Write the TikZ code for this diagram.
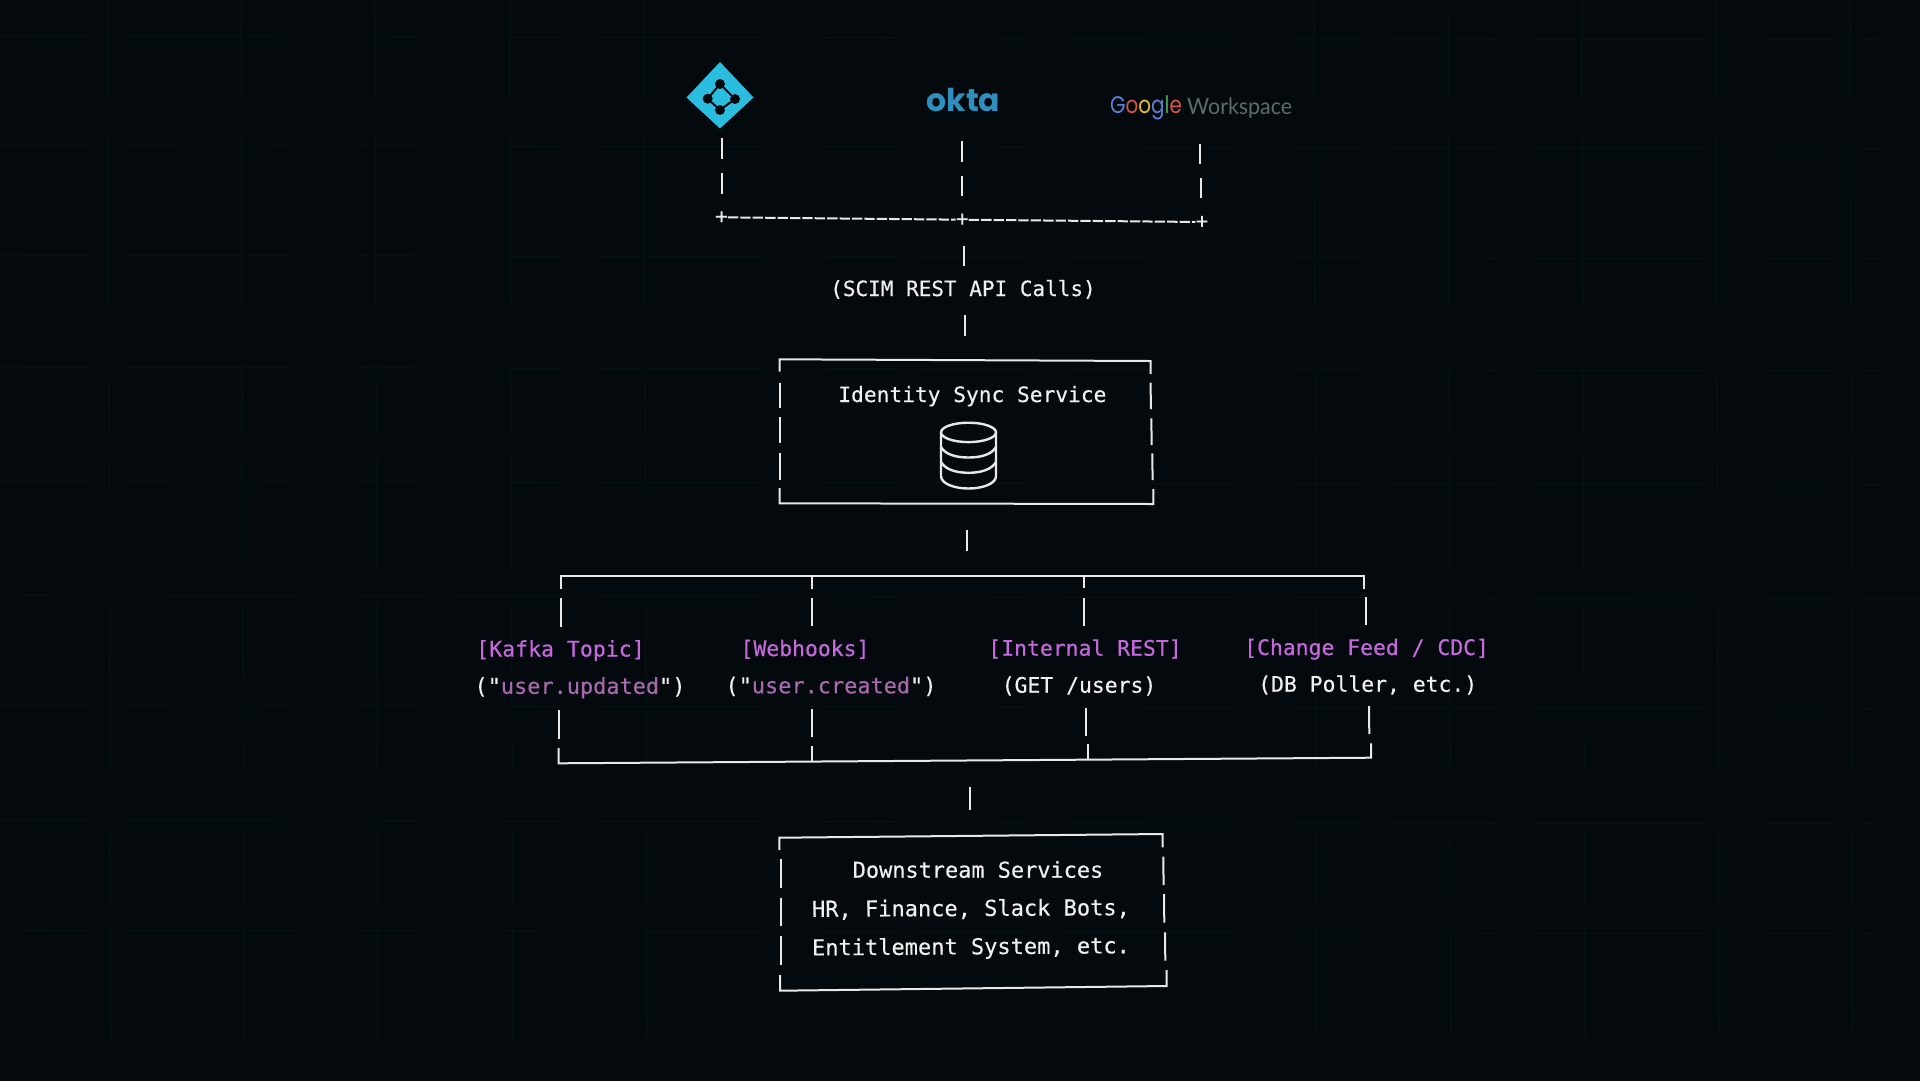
\documentclass[tikz,border=0pt]{standalone}
\usepackage{fontspec}
\newfontfamily\monof[FakeBold=0.35]{DejaVu Sans Mono}
\newfontfamily\logofont{Poppins}
\newfontfamily\wsfont{Lato}
\definecolor{bgc}{HTML}{03090C}
\definecolor{gridc}{HTML}{061114}
\definecolor{wirec}{HTML}{E8E8E8}
\definecolor{txtc}{HTML}{F0F0F0}
\definecolor{magc}{HTML}{C468DC}
\definecolor{mauvec}{HTML}{A868AC}
\definecolor{azc}{HTML}{2BBDE0}
\definecolor{oktac}{HTML}{2F8FBE}
\definecolor{gblue}{HTML}{5A80D8}
\definecolor{gred}{HTML}{D9534A}
\definecolor{gyel}{HTML}{E2BE3A}
\definecolor{ggreen}{HTML}{4FA45A}
\definecolor{wsc}{HTML}{5E6B6B}
\tikzset{
  wire/.style={draw=wirec,line width=2pt},
  hdash/.style={draw=wirec,line width=2pt,dash pattern=on 10.4pt off 2pt},
  mono/.style={inner sep=0pt,anchor=base,text=txtc,font=\monof\fontsize{21.4}{21.4}\selectfont},
  monob/.style={mono,font=\monof\fontsize{21.9}{21.9}\selectfont},
  plusn/.style={inner sep=0pt,text=wirec,font=\monof\fontsize{21}{21}\selectfont},
  gridl/.style={draw=gridc,line width=1.3pt,dash pattern=on 110pt off 35pt on 170pt off 60pt on 70pt off 25pt}
}
\newcommand\wseg[5]{\coordinate (#1a) at (#2,#3); \coordinate (#1b) at (#4,#5); \draw[wire] (#1a) -- (#1b);}
\begin{document}
\begin{tikzpicture}[x=1pt,y=-1pt]
\useasboundingbox (0,0) rectangle (1920,1080);
\clip (0,0) rectangle (1920,1080);
\fill[bgc] (-5,-5) rectangle (1925,1085);
% faint background grid
\foreach \gx in {108,241,375,510,644,1314,1448,1582,1716,1850}
  {\coordinate (gt\gx) at (\gx,-12); \coordinate (gb\gx) at (\gx+3,1075); \draw[gridl] (gt\gx) -- (gb\gx);}
\foreach \gy in {36,145,255,367,481,595,705,820,930}
  {\coordinate (gl\gy) at (-20,\gy); \coordinate (gr\gy) at (1930,\gy+4); \draw[gridl] (gl\gy) -- (gr\gy);}

% Azure AD logo
\coordinate (azT) at (720,62); \coordinate (azR) at (753.5,97.5);
\coordinate (azB) at (720,128.5); \coordinate (azL) at (686.5,97.5);
\fill[azc] (azT) -- (azR) -- (azB) -- (azL) -- cycle;
\coordinate (az1) at (720,84); \coordinate (az2) at (735,99); \coordinate (az3) at (720,110); \coordinate (az4) at (707.7,98.7);
\draw[bgc,line width=2pt] (az1) -- (az2) -- (az3) -- (az4) -- cycle;
\foreach \a in {1,2,3,4} \fill[bgc] (az\a) circle (5pt);

% okta and Google Workspace logos
\node[inner sep=0pt,anchor=base,text=oktac,font=\logofont\bfseries\fontsize{31.5}{31.5}\selectfont] (okta) at (963.5,111) {okta};
\node[inner sep=0pt,anchor=base west,font=\logofont\fontsize{24}{24}\selectfont] (google) at (1110,113)
  {\scalebox{0.83}[1]{\textcolor{gblue}{G}\textcolor{gred}{o}\textcolor{gyel}{o}\textcolor{gblue}{g}\textcolor{ggreen}{l}\textcolor{gred}{e}}};
\node[inner sep=0pt,anchor=base west,text=wsc,font=\wsfont\fontsize{22.5}{22.5}\selectfont] (wspace) at (1187,114) {\scalebox{0.95}[1]{Workspace}};

% top connectors
\wseg{a1}{722.3}{138.3}{722.3}{159}
\wseg{a2}{722.3}{172.7}{722.3}{194}
\wseg{b1}{962}{141}{962}{161.7}
\wseg{b2}{962.3}{175.7}{962.3}{196}
\wseg{c1}{1199.6}{144}{1199.6}{164.3}
\wseg{c2}{1200.6}{178.3}{1200.6}{198.3}
\node[plusn] (plusL) at (721.4,217.3) {+};
\node[plusn] (plusM) at (962.2,219.7) {+};
\node[plusn] (plusR) at (1202,222) {+};
\draw[hdash] (plusL) -- (plusM);
\draw[hdash] (plusM) -- (plusR);
\wseg{d1}{964}{245.7}{964}{265.7}
\node[mono,font=\monof\fontsize{21}{21}\selectfont] (scim) at (963,296) {(SCIM REST API Calls)};
\wseg{d2}{964.7}{315}{964.7}{335.7}

% Identity Sync Service box
\coordinate (iTL) at (779.5,359.3); \coordinate (iTR) at (1150.6,361);
\coordinate (iBR) at (1153.3,504); \coordinate (iBL) at (779.5,503.3);
\coordinate (iL1) at (779.5,371.7); \coordinate (iR1) at (1150.6,374);
\coordinate (iL2) at (779.5,488); \coordinate (iR2) at (1153.3,489);
\draw[wire] (iL1) -- (iTL) -- (iTR) -- (iR1);
\draw[wire] (iL2) -- (iBL) -- (iBR) -- (iR2);
\wseg{e1}{779.5}{382.7}{779.5}{407.7}
\wseg{e2}{779.5}{416.7}{779.5}{443.3}
\wseg{e3}{779.5}{452.7}{779.5}{480}
\wseg{f1}{1150.6}{382.7}{1150.9}{409}
\wseg{f2}{1151.3}{418.3}{1151.7}{445}
\wseg{f3}{1152.3}{453.3}{1152.6}{480}
\node[mono,font=\monof\fontsize{21.2}{21.2}\selectfont] (iname) at (972.4,402) {Identity Sync Service};

% database icon
\coordinate (dbC) at (968.5,432.4);
\draw[wire,line width=2.4pt] (dbC) ellipse [x radius=27.5pt,y radius=9.7pt];
\coordinate (dbL0) at (941,432.4); \coordinate (dbR0) at (996,432.4);
\coordinate (dbL3) at (941,476); \coordinate (dbR3) at (996,476);
\draw[wire,line width=2.4pt] (dbL0) -- (dbL3) .. controls (941,484) and (955,488.5) .. (968.5,488.5) .. controls (982,488.5) and (996,484) .. (dbR3) -- (dbR0);
\draw[wire,line width=2.4pt] (941,447) .. controls (945,454) and (955,457.5) .. (968.5,457.5) .. controls (982,457.5) and (992,454) .. (996,447);
\draw[wire,line width=2.4pt] (941,462) .. controls (945,469) and (955,472.8) .. (968.5,472.8) .. controls (982,472.8) and (992,469) .. (996,462);

\wseg{g1}{967}{530}{967}{550.7}

% upper bracket
\coordinate (uL) at (560.5,576); \coordinate (uR) at (1364.3,576);
\coordinate (uL1) at (560.5,589); \coordinate (uR1) at (1364.3,588.5);
\draw[wire] (uL1) -- (uL) -- (uR) -- (uR1);
\wseg{h1}{811.7}{576}{811.7}{589}
\wseg{h2}{1083.6}{576}{1083.6}{588.3}
\wseg{i1}{560.5}{598}{560.5}{626.7}
\wseg{i2}{811.7}{598}{811.7}{626}
\wseg{i3}{1083.9}{598}{1083.9}{625.7}
\wseg{i4}{1365.6}{597}{1365.6}{625}

% channel labels
\node[mono,text=magc,font=\monof\fontsize{21.5}{21.5}\selectfont] (l1) at (560.5,656.5) {[Kafka Topic]};
\node[monob] (m1) at (580,693.8) {("\textcolor{mauvec}{user.updated}")};
\node[mono,text=magc] (l2) at (805,656) {[Webhooks]};
\node[monob] (m2) at (831,693.3) {("\textcolor{mauvec}{user.created}")};
\node[mono,text=magc] (l3) at (1085,655.7) {[Internal REST]};
\node[mono] (m3) at (1079,692.7) {(GET /users)};
\node[mono,text=magc] (l4) at (1366.6,655) {[Change Feed / CDC]};
\node[mono] (m4) at (1367.7,691.7) {(DB Poller, etc.)};

% lower bracket
\wseg{j1}{559}{710}{559}{739}
\wseg{j2}{811.7}{709}{811.7}{737.3}
\wseg{j3}{1086.3}{708}{1086.3}{736}
\wseg{j4}{1369}{706}{1369.3}{734}
\coordinate (wL) at (558.5,763.3); \coordinate (wR) at (1371,757.7);
\coordinate (wL1) at (558.5,748); \coordinate (wR1) at (1371,743.3);
\draw[wire] (wL1) -- (wL) -- (wR) -- (wR1);
\wseg{k1}{811.7}{746}{811.7}{761.7}
\wseg{k2}{1087.6}{744}{1087.6}{760}

\wseg{n1}{970.3}{787.3}{970.3}{810}

% Downstream box
\coordinate (dTL) at (779.3,837.7); \coordinate (dTR) at (1162.7,834);
\coordinate (dBR) at (1166.7,986); \coordinate (dBL) at (780,990.7);
\coordinate (dL1) at (779.3,850); \coordinate (dR1) at (1162.7,847.3);
\coordinate (dL2) at (780,975); \coordinate (dR2) at (1166.7,970);
\draw[wire] (dL1) -- (dTL) -- (dTR) -- (dR1);
\draw[wire] (dL2) -- (dBL) -- (dBR) -- (dR2);
\wseg{p1}{780.7}{859.3}{780.7}{888.3}
\wseg{p2}{780.7}{897.7}{780.7}{926}
\wseg{p3}{780.7}{936}{780.7}{965}
\wseg{q1}{1163.3}{856.7}{1163.6}{885}
\wseg{q2}{1164}{894}{1164.3}{922.7}
\wseg{q3}{1165}{932.3}{1165.3}{960.7}
\node[monob] (ds1) at (978,877.7) {Downstream Services};
\node[monob,rotate=0.3,font=\monof\fontsize{22}{22}\selectfont] (ds2) at (971,916) {HR, Finance, Slack Bots,};
\node[monob,rotate=0.4,font=\monof\fontsize{22}{22}\selectfont] (ds3) at (971,954.3) {Entitlement System, etc.};
\end{tikzpicture}
\end{document}
